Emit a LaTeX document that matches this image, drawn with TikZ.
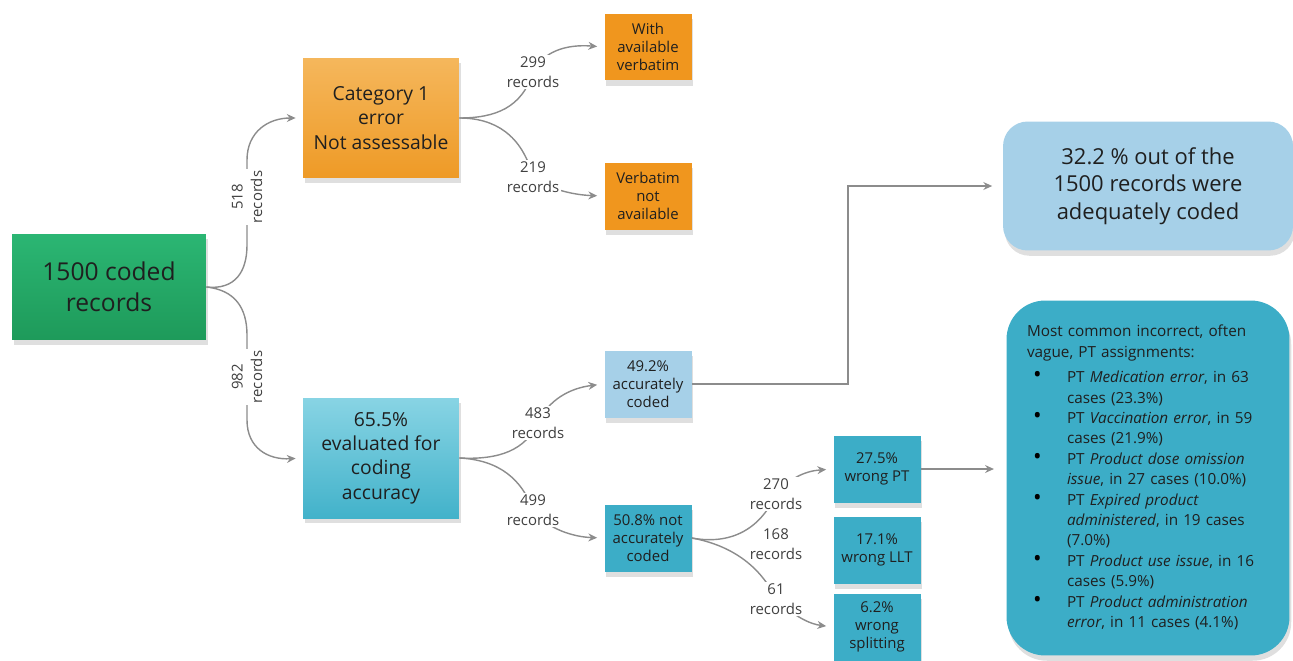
\documentclass[tikz,border=0pt]{standalone}
\usepackage{fontspec}
\setmainfont{Open Sans}
\usetikzlibrary{arrows.meta,shadows}

\definecolor{linegray}{HTML}{8C8C8C}
\definecolor{greentop}{HTML}{2BB673}
\definecolor{greenbot}{HTML}{1E9A5A}
\definecolor{orangetop}{HTML}{F5B75C}
\definecolor{orangebot}{HTML}{EE9A26}
\definecolor{orangebox}{HTML}{F0961E}
\definecolor{paleblue}{HTML}{A6D0E8}
\definecolor{tealtop}{HTML}{88D4E4}
\definecolor{tealbot}{HTML}{42B2CA}
\definecolor{tealbox}{HTML}{3CADC7}

\newcommand{\blt}{\hspace{0.12cm}{\fontsize{13}{11}\selectfont\color{black}\textbullet}}

\begin{document}
\begin{tikzpicture}
      [x=0.02cm, y=-0.02cm,
      box/.style={draw=none, align=center, inner sep=2pt, text=black!88,
        drop shadow={opacity=0.25, shadow xshift=1pt, shadow yshift=-3pt}},
      large box/.style={box, minimum width=3.12cm, minimum height=2.4cm, font=\fontsize{11}{13.8}\selectfont},
      small box/.style={box, minimum width=1.74cm, minimum height=1.34cm, font=\fontsize{8.5}{10.4}\selectfont},
      orange box/.style={small box, fill=orangebox},
      teal box/.style={small box, fill=tealbox},
      result box/.style={box, rounded corners=14pt, minimum width=5.8cm},
      conn/.style={draw=linegray, line width=0.8pt, shorten >=4pt, -{Stealth[length=5pt, width=4.5pt]}},
      lbl/.style={fill=white, align=center, inner sep=1pt, text=black!75, font=\fontsize{8.5}{11}\selectfont},
      ]
    \useasboundingbox (0,0) rectangle (1293,660);

    % boxes
    \node[box, minimum width=3.88cm, minimum height=2.12cm, top color=greentop, bottom color=greenbot,
      font=\fontsize{14}{17.5}\selectfont] (coded) at (109,287) {1500 coded\\records};
    \node[large box, top color=orangetop, bottom color=orangebot] (cat) at (381,118) {Category 1\\error\\Not assessable};
    \node[orange box] (with) at (648,47) {With\\available\\verbatim};
    \node[orange box] (noverb) at (648,196) {Verbatim\\not\\available};
    \node[large box, top color=tealtop, bottom color=tealbot] (eval) at (381,458) {65.5\%\\evaluated for\\coding\\accuracy};
    \node[small box, fill=paleblue] (acc) at (648,384) {49.2\%\\accurately\\coded};
    \node[teal box] (notacc) at (648,538) {50.8\% not\\accurately\\coded};
    \node[teal box] (wrongpt) at (877,469) {27.5\%\\wrong PT};
    \node[teal box] (wrongllt) at (877,550) {17.1\%\\wrong LLT};
    \node[teal box] (split) at (877,627) {6.2\%\\wrong\\splitting};
    \node[result box, minimum height=2.58cm, fill=paleblue, font=\fontsize{12.5}{15.8}\selectfont] (summ) at (1148,186)
      {32.2 \% out of the\\1500 records were\\adequately coded};
    \node[result box, rounded corners=22pt, minimum width=5.66cm, minimum height=7.1cm, fill=tealbox, align=left,
      text width=4.84cm, font=\fontsize{8.7}{11.6}\selectfont] (pts) at (1148,478) {%
      \begin{tabular}{@{}p{0.8cm}@{}l@{}}
        \multicolumn{2}{@{}l@{}}{Most common incorrect, often}\\
        \multicolumn{2}{@{}l@{}}{vague, PT assignments:}\\[3pt]
        \blt & PT \textit{Medication error}, in 63\\
         & cases (23.3\%)\\
        \blt & PT \textit{Vaccination error}, in 59\\
         & cases (21.9\%)\\
        \blt & PT \textit{Product dose omission}\\
         & \textit{issue}, in 27 cases (10.0\%)\\
        \blt & PT \textit{Expired product}\\
         & \textit{administered}, in 19 cases\\
         & (7.0\%)\\
        \blt & PT \textit{Product use issue}, in 16\\
         & cases (5.9\%)\\
        \blt & PT \textit{Product administration}\\
         & \textit{error}, in 11 cases (4.1\%)
      \end{tabular}};

    % connectors
    \draw[conn] (coded.east) .. controls (235,290) and (247,272) .. (247,245) -- (247,197)
      node[lbl, rotate=90] {518\\records} -- (247,160) .. controls (247,132) and (268,118) .. (cat.west);
    \draw[conn] (coded.east) .. controls (235,290) and (247,308) .. (247,335) -- (247,377)
      node[lbl, rotate=90] {982\\records} -- (247,420) .. controls (247,448) and (268,460) .. (eval.west);
    \draw[conn] (cat.east) .. controls (495,118) and (522,108) .. (533,72) node[lbl] {299\\records}
      .. controls (543,52) and (565,44) .. (with.west);
    \draw[conn] (cat.east) .. controls (495,118) and (522,135) .. (533,177) node[lbl] {219\\records}
      .. controls (550,190) and (575,195) .. (noverb.west);
    \draw[conn] (eval.east) .. controls (500,460) and (525,450) .. (538,423) node[lbl] {483\\records}
      .. controls (548,400) and (570,388) .. (acc.west);
    \draw[conn] (eval.east) .. controls (500,460) and (522,480) .. (533,510) node[lbl] {499\\records}
      .. controls (548,530) and (575,537) .. (notacc.west);
    \draw[conn] (notacc.east) .. controls (730,545) and (760,530) .. (776,494) node[lbl] {270\\records}
      .. controls (790,478) and (805,471) .. (wrongpt.west);
    \draw[conn] (notacc.east) .. controls (730,545) and (760,565) .. (776,599) node[lbl] {61\\records}
      .. controls (795,617) and (810,624) .. (split.west);
    \node[lbl, fill=none] (llt count) at (776,544) {168\\records};
    \draw[conn, shorten >=6pt] (acc.east) -- (848,384) |- (summ.west);
    \draw[conn, shorten >=7pt] (wrongpt.east) -- (wrongpt.east -| pts.west);
\end{tikzpicture}
\end{document}
